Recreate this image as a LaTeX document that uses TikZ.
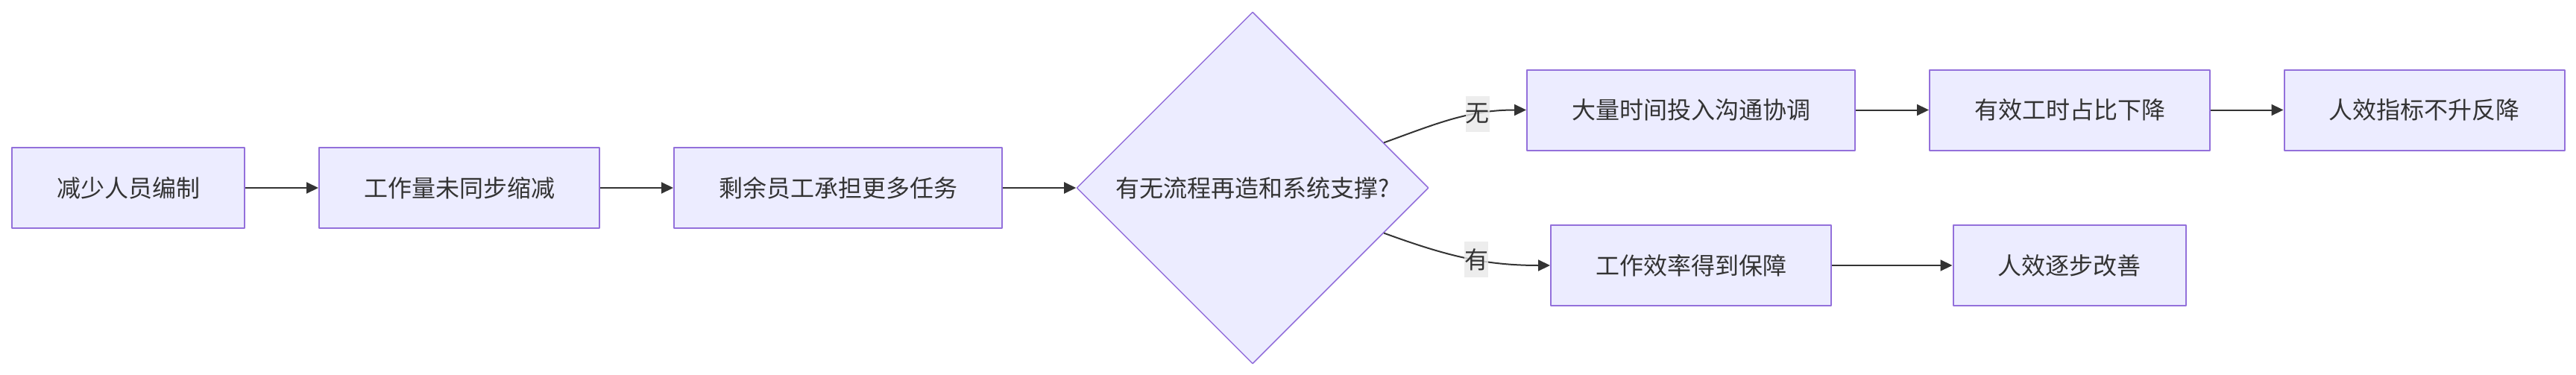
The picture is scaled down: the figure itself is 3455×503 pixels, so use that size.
\documentclass[tikz,border=0pt]{standalone}
\usepackage{fontspec}
\newfontfamily\cjk{Noto Sans CJK SC}
\usetikzlibrary{arrows.meta,shapes.geometric}
\definecolor{boxfill}{HTML}{ECECFF}
\definecolor{boxline}{HTML}{9370DB}
\definecolor{ink}{HTML}{333333}
\definecolor{lblfill}{HTML}{E8E8E8}
\begin{document}
\begin{tikzpicture}[x=1pt,y=-1pt,>={Triangle[length=16pt,width=15pt]},line join=round,font=\cjk\fontsize{32}{40}\selectfont,
	box/.style={draw=boxline,fill=boxfill,line width=2pt,text=ink,inner xsep=60pt,minimum height=108pt},
	ask/.style={diamond,aspect=1,draw=boxline,fill=boxfill,line width=1.5pt,text=ink,inner sep=0pt,minimum width=472pt,minimum height=472pt},
	flow/.style={->,draw=ink,line width=2pt},
	lbl/.style={fill=lblfill,fill opacity=0.8,text opacity=1,text=ink,inner sep=0pt,minimum height=48pt}]
	\useasboundingbox (0,0) rectangle (3455,503);
	\node[box] (cut) at (172,252) {减少人员编制};
	\node[box] (load) at (616,252) {工作量未同步缩减};
	\node[box] (more) at (1124,252) {剩余员工承担更多任务};
	\node[ask] (ask) at (1680,252) {有无流程再造和系统支撑?};
	\node[box] (comm) at (2268,147.5) {大量时间投入沟通协调};
	\node[box] (eff) at (2776,147.5) {有效工时占比下降};
	\node[box] (drop) at (3251.5,147.5) {人效指标不升反降};
	\node[box] (work) at (2268,356) {工作效率得到保障};
	\node[box] (gain) at (2775.5,356) {人效逐步改善};
	\draw[flow] (cut)--(load);
	\draw[flow] (load)--(more);
	\draw[flow] (more)--(ask);
	\draw[flow] (ask.19) to[out=20,in=180] node[lbl,pos=0.68]{无} (comm.west);
	\draw[flow] (ask.-19) to[out=-20,in=180] node[lbl,pos=0.57]{有} (work.west);
	\draw[flow] (comm)--(eff);
	\draw[flow] (eff)--(drop);
	\draw[flow] (work)--(gain);
\end{tikzpicture}
\end{document}
